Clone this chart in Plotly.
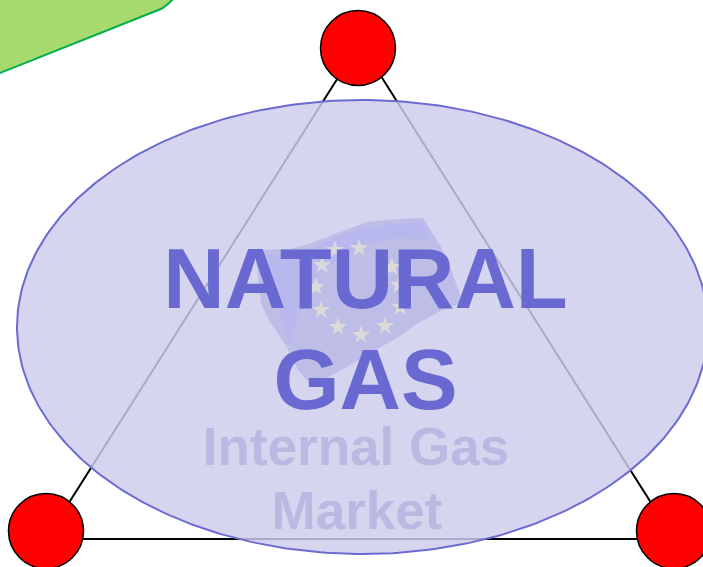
import numpy as np
import plotly.graph_objects as go

# Triangle vertices and node positions (pixel-like coordinates of the diagram)
triangle_x = [360, 46, 674, 360]
triangle_y = [43, 539, 539, 43]
node_x = [358, 46, 674]
node_y = [48, 531, 531]

# Green rounded banner in the corner
banner_x = [-10, 155, 162, 168, 173, 180, -10, -10]
banner_y = [77, 12, 8.5, 4, -1, -10, -10, 77]

# Ellipse parameters
ell_cx, ell_cy, ell_rx, ell_ry = 362.5, 327, 345.5, 227

# Flag outline
flag_x = [255, 290, 312, 340, 368, 398, 423, 440, 452, 463, 448, 420, 400, 378, 345, 312, 298, 287, 270, 261]
flag_y = [250, 249, 243, 232, 222, 219, 218, 245, 272, 303, 307, 322, 336, 349, 368, 386, 370, 347, 322, 303]
band_x = [262, 290, 312, 340, 368, 398, 423, 432, 395, 365, 335, 305, 290]
band_y = [254, 255, 248, 236, 227, 224, 222, 240, 238, 245, 262, 285, 345]
star_x = [335, 359, 392, 322, 316, 321, 338, 361, 385, 400, 399]
star_y = [250, 248, 267, 265, 287, 310, 327, 335, 326, 307, 285]

# Text
title_lines = ["NATURAL", "GAS"]
title_x = [365.5, 365.5]
title_y = [287, 388]
sub_lines = ["Internal Gas", "Market"]
sub_x = [356, 357]
sub_y = [452, 516]

t = np.linspace(0, 2 * np.pi, 361)
ell_x = ell_cx + ell_rx * np.cos(t)
ell_y = ell_cy + ell_ry * np.sin(t)

fig = go.Figure()
fig.add_trace(go.Scatter(x=banner_x, y=banner_y, mode="lines", fill="toself",
                         fillcolor="#A6D96E", line=dict(color="#00B050", width=2)))
fig.add_trace(go.Scatter(x=triangle_x, y=triangle_y, mode="lines",
                         line=dict(color="black", width=2)))
fig.add_trace(go.Scatter(x=node_x, y=node_y, mode="markers",
                         marker=dict(size=75, color="#FF0000", line=dict(color="black", width=1.5))))
fig.add_trace(go.Scatter(x=sub_x, y=sub_y, mode="text", text=sub_lines, textposition="middle center",
                         textfont=dict(family="Liberation Sans", size=53, color="#5A58A8", weight="bold")))
fig.add_trace(go.Scatter(x=ell_x, y=ell_y, mode="lines", fill="toself",
                         fillcolor="rgba(205,205,237,0.83)", line=dict(color="#6B6BD2", width=2)))
fig.add_trace(go.Scatter(x=flag_x, y=flag_y, mode="lines", fill="toself",
                         fillcolor="rgba(165,165,222,0.5)", line=dict(width=0, color="rgba(0,0,0,0)")))
fig.add_trace(go.Scatter(x=band_x, y=band_y, mode="lines", fill="toself",
                         fillcolor="rgba(178,178,248,0.45)", line=dict(width=0, color="rgba(0,0,0,0)")))
fig.add_trace(go.Scatter(x=star_x, y=star_y, mode="markers",
                         marker=dict(symbol="star", size=14, color="rgba(226,224,214,0.8)", line=dict(width=0))))
fig.add_trace(go.Scatter(x=title_x, y=title_y, mode="text", text=title_lines, textposition="middle center",
                         textfont=dict(family="Liberation Sans", size=85, color="#6969D1", weight="bold")))

fig.update_layout(
    width=703, height=567, showlegend=False, autosize=False,
    margin=dict(l=0, r=0, t=0, b=0),
    paper_bgcolor="white", plot_bgcolor="white",
    xaxis=dict(range=[0, 703], visible=False, fixedrange=True),
    yaxis=dict(range=[567, 0], visible=False, fixedrange=True),
)
fig.write_html("out.html", config=dict(displayModeBar=False),
               post_script="document.body.style.margin='0';document.body.style.overflow='hidden';")
